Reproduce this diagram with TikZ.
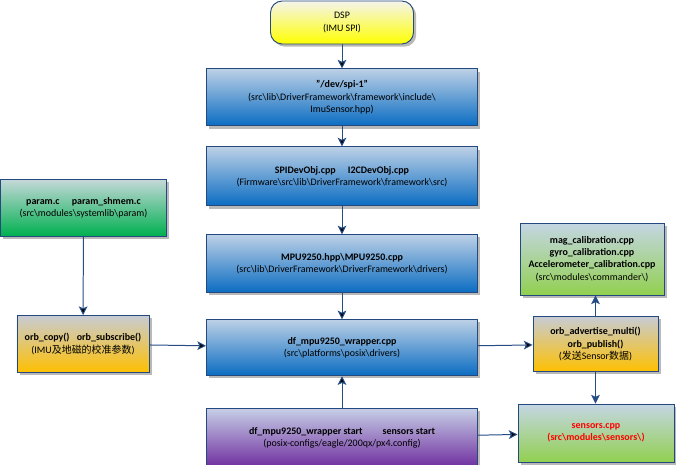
\documentclass[tikz,border=0pt]{standalone}
\usepackage{fontspec}
\setmainfont{Carlito}
\newfontfamily\cjk{Noto Sans CJK SC}
\usepackage{tikz}
\usetikzlibrary {arrows.meta,
                 positioning,
                 shadows}
\definecolor{boxline}{HTML}{24497F}
\definecolor{arrowline}{HTML}{264C84}
\definecolor{blueTop}{HTML}{BCD0E6}
\definecolor{blueBot}{HTML}{0A6CC2}
\definecolor{greenTop}{HTML}{C6D8DA}
\definecolor{greenBot}{HTML}{00B050}
\definecolor{orangeTop}{HTML}{C8CCD4}
\definecolor{orangeBot}{HTML}{FFC000}
\definecolor{limeTop}{HTML}{C4D6E4}
\definecolor{limeBot}{HTML}{92D050}
\definecolor{purpleTop}{HTML}{C6CEE6}
\definecolor{purpleBot}{HTML}{7030A0}
\definecolor{yellowTop}{HTML}{F4F4EC}
\definecolor{yellowBot}{HTML}{FFFF00}
\newcommand{\bsl}{\textbackslash}
\tikzset{
        base/.style={draw=boxline, line width=0.8pt, align=center,
                     font=\fontsize{8.5}{10.5}\selectfont, inner sep=2pt,
                     drop shadow={shadow xshift=0.08cm, shadow yshift=-0.08cm,
                                  fill=black!50, opacity=0.55}},
        bluebox/.style={base, top color=blueTop, bottom color=blueBot,
                        minimum width=8.13cm},
        greenbox/.style={base, top color=greenTop, bottom color=greenBot},
        orangebox/.style={base, top color=orangeTop, bottom color=orangeBot},
        limebox/.style={base, top color=limeTop, bottom color=limeBot},
        purplebox/.style={base, top color=purpleTop, bottom color=purpleBot,
                          minimum width=8.13cm},
        term/.style={base, rounded corners=10pt, top color=yellowTop,
                     bottom color=yellowBot},
        myarrow/.style={-{Stealth[length=2.6mm, width=2.6mm, inset=0.6mm]},
                        draw=arrowline, line width=0.85pt},
 }

\begin{document}
\begin{tikzpicture}[x=0.03cm, y=-0.03cm]
    \useasboundingbox (0,0) rectangle (676,464);

    \node[term, minimum width=4.29cm, minimum height=1.29cm] (dsp) at (342,22.5)
         {DSP\\(IMU SPI)};
    \node[bluebox, minimum height=1.71cm, below=0.72cm of dsp] (spi)
         {\textbf{"/dev/spi-1"}\\(src\bsl lib\bsl DriverFramework\bsl framework\bsl include\bsl\\ImuSensor.hpp)};
    \node[bluebox, minimum height=1.77cm, below=0.6cm of spi] (devobj)
         {\textbf{SPIDevObj.cpp\quad\ I2CDevObj.cpp}\\(Firmware\bsl src\bsl lib\bsl DriverFramework\bsl framework\bsl src)};
    \node[bluebox, minimum height=1.74cm, below=0.84cm of devobj] (mpu)
         {\textbf{MPU9250.hpp\bsl MPU9250.cpp}\\(src\bsl lib\bsl DriverFramework\bsl DriverFramework\bsl drivers)};
    \node[bluebox, minimum height=1.68cm, below=0.78cm of mpu] (wrapper)
         {\textbf{df\_mpu9250\_wrapper.cpp}\\(src\bsl platforms\bsl posix\bsl drivers)};
    \node[purplebox, minimum height=1.74cm, below=0.96cm of wrapper] (start)
         {\textbf{df\_mpu9250\_wrapper start\qquad sensors start}\\(posix-configs/eagle/200qx/px4.config)};

    \node[greenbox, minimum width=4.98cm, minimum height=1.71cm] (param) at (83.5,207.5)
         {\textbf{param.c\quad\ param\_shmem.c}\\(src\bsl modules\bsl systemlib\bsl param)};
    \node[orangebox, minimum width=3.96cm, minimum height=1.71cm] (copy) at (83,344)
         {\textbf{orb\_copy()\enspace\ orb\_subscribe()}\\(IMU{\cjk 及地磁的校准参数})};

    \node[limebox, minimum width=4.32cm, minimum height=2.16cm] (calib) at (592,259)
         {\textbf{mag\_calibration.cpp}\\\textbf{gyro\_calibration.cpp}\\\textbf{Accelerometer\_calibration.cpp}\\(src\bsl modules\bsl commander\bsl)};
    \node[orangebox, minimum width=3.75cm, minimum height=1.65cm] (publish) at (595.5,344)
         {\textbf{orb\_advertise\_multi()}\\\textbf{orb\_publish()}\\({\cjk 发送}Sensor{\cjk 数据})};
    \node[limebox, minimum width=4.68cm, minimum height=1.74cm, text=red] (sensors) at (596,433)
         {\textbf{sensors.cpp}\\\textbf{(src\bsl modules\bsl sensors\bsl)}};

    \draw[myarrow] (dsp) edge (spi);
    \draw[myarrow] (spi) edge (devobj);
    \draw[myarrow] (devobj) edge (mpu);
    \draw[myarrow] (mpu) edge (wrapper);
    \draw[myarrow] (start) edge (wrapper);
    \draw[myarrow] (param) edge (copy);
    \draw[myarrow] (copy) edge (wrapper);
    \draw[myarrow] (wrapper) edge (publish);
    \draw[myarrow] (publish.north) -- (publish.north |- calib.south);
    \draw[myarrow] (publish.south) -- (publish.south |- sensors.north);
    \draw[myarrow] (start) edge (sensors);
\end{tikzpicture}
\end{document}
